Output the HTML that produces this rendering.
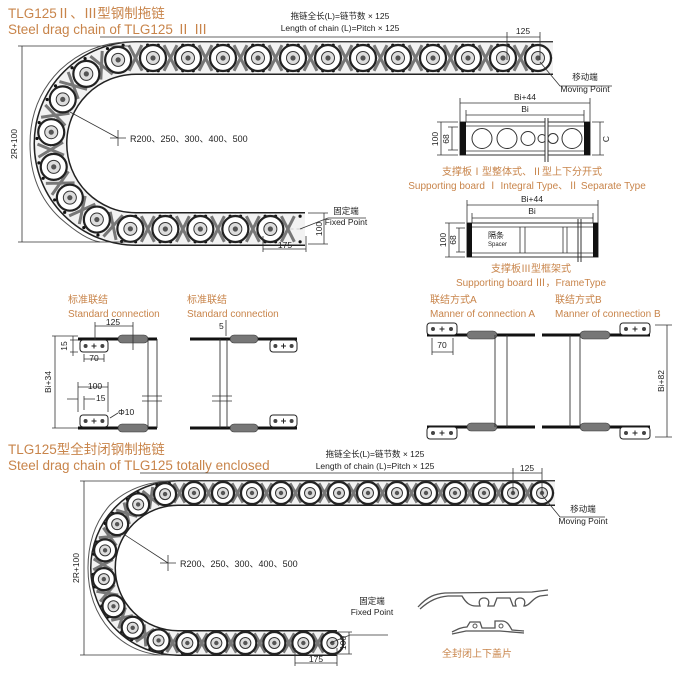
<!DOCTYPE html>
<html><head><meta charset="utf-8">
<style>
html,body{margin:0;padding:0;background:#fff;}
svg{display:block;}
.o{fill:#c8844a;font-family:"Liberation Sans","Noto Sans CJK SC",sans-serif;}
.k{fill:#222;font-family:"Liberation Sans","Noto Sans CJK SC",sans-serif;}
.l{stroke:#333;stroke-width:0.8;fill:none;}
</style></head><body>
<svg id="s" width="693" height="673" viewBox="0 0 693 673" xmlns="http://www.w3.org/2000/svg">
<defs>
<marker id="a" markerWidth="6" markerHeight="6" refX="5" refY="3" orient="auto"><path d="M0,1 L5,3 L0,5" fill="#333"/></marker>
</defs>
<!-- Titles -->
<text class="o" x="8" y="18" font-size="13.5">TLG125Ⅱ、Ⅲ型钢制拖链</text>
<text class="o" x="8" y="34" font-size="13.5">Steel drag chain of TLG125 Ⅱ Ⅲ</text>
<text class="o" x="8" y="454" font-size="13.5">TLG125型全封闭钢制拖链</text>
<text class="o" x="8" y="470" font-size="13.5">Steel drag chain of  TLG125 totally enclosed</text>

<g id="chains"></g>

<!-- top diagram dims -->
<text class="k" x="340" y="19" font-size="8.5" text-anchor="middle">拖链全长(L)=链节数 × 125</text>
<text class="k" x="340" y="31" font-size="8.5" text-anchor="middle">Length of chain (L)=Pitch × 125</text>
<path class="l" d="M100,37 L540,37 M507,32 L507,60 M540,32 L540,60"/>
<text class="k" x="523" y="34" font-size="8.5" text-anchor="middle">125</text>
<path class="l" d="M540,62 L560,86 L612,86"/>
<text class="k" x="585" y="80" font-size="8.5" text-anchor="middle">移动端</text>
<text class="k" x="585" y="92" font-size="8.5" text-anchor="middle">Moving Point</text>
<path class="l" d="M22,46 L22,242 M18,46 L130,46 M18,242 L130,242"/>
<text class="k" font-size="8.5" transform="translate(17,144) rotate(-90)" text-anchor="middle">2R+100</text>
<path class="l" d="M110,138 L126,138 M118,130 L118,146 M118,138 L70,112"/>
<text class="k" x="130" y="142" font-size="9">R200、250、300、400、500</text>
<path class="l" d="M300,229 L328,218 L366,218 M308,213 L328,213 M308,244 L328,244 M324,213 L324,244 M263,236 L263,252 M306,236 L306,252 M263,249 L306,249"/>
<text class="k" x="346" y="214" font-size="8.5" text-anchor="middle">固定端</text>
<text class="k" x="346" y="225" font-size="8.5" text-anchor="middle">Fixed Point</text>
<text class="k" font-size="8.5" transform="translate(322,229) rotate(-90)" text-anchor="middle">100</text>
<text class="k" x="285" y="248" font-size="8.5" text-anchor="middle">175</text>

<!-- lower diagram dims -->
<text class="k" x="375" y="457" font-size="8.5" text-anchor="middle">拖链全长(L)=链节数 × 125</text>
<text class="k" x="375" y="469" font-size="8.5" text-anchor="middle">Length of chain (L)=Pitch × 125</text>
<path class="l" d="M140,473 L542,473 M513,468 L513,494 M542,468 L542,494"/>
<text class="k" x="527" y="471" font-size="8.5" text-anchor="middle">125</text>
<path class="l" d="M542,495 L560,517 L605,517"/>
<text class="k" x="583" y="512" font-size="8.5" text-anchor="middle">移动端</text>
<text class="k" x="583" y="524" font-size="8.5" text-anchor="middle">Moving Point</text>
<path class="l" d="M84,481 L84,655 M80,481 L175,481 M80,655 L175,655"/>
<text class="k" font-size="8.5" transform="translate(79,568) rotate(-90)" text-anchor="middle">2R+100</text>
<path class="l" d="M160,563 L176,563 M168,555 L168,571 M168,563 L125,535"/>
<text class="k" x="180" y="567" font-size="9">R200、250、300、400、500</text>
<path class="l" d="M330,643 L350,635 L388,635 M337,632 L352,632 M337,654 L352,654 M349,632 L349,654 M295,648 L295,666 M337,648 L337,666 M295,663 L337,663"/>
<text class="k" x="372" y="604" font-size="8.5" text-anchor="middle">固定端</text>
<text class="k" x="372" y="615" font-size="8.5" text-anchor="middle">Fixed Point</text>
<text class="k" font-size="8.5" transform="translate(346,643) rotate(-90)" text-anchor="middle">100</text>
<text class="k" x="316" y="662" font-size="8.5" text-anchor="middle">175</text>

<!-- Supporting board I/II -->
<path class="l" d="M460,98 L460,122 M590,98 L590,122 M460,103 L590,103 M466,110 L466,122 M584,110 L584,122 M466,115 L584,115"/>
<text class="k" x="525" y="100" font-size="8.5" text-anchor="middle">Bi+44</text>
<text class="k" x="525" y="112" font-size="8.5" text-anchor="middle">Bi</text>
<rect x="460" y="122" width="130" height="33" fill="#fff" stroke="#333" stroke-width="1"/>
<rect x="460" y="122" width="6" height="33" fill="#111"/>
<rect x="584" y="122" width="6" height="33" fill="#111"/>
<path class="l" d="M466,126 L584,126 M466,151 L584,151"/>
<g fill="#fff" stroke="#333" stroke-width="1"><circle cx="482" cy="138.5" r="10"/><circle cx="507" cy="138.5" r="10"/><circle cx="528" cy="138.5" r="7"/><circle cx="542" cy="138.5" r="4"/><circle cx="553" cy="138.5" r="5"/><circle cx="572" cy="138.5" r="10"/></g>
<path d="M545,118 L545,162 M548,118 L548,162" stroke="#333" stroke-width="1"/>
<rect x="545.5" y="118" width="2" height="44" fill="#fff"/>
<path class="l" d="M437,122 L458,122 M437,155 L458,155 M441,122 L441,155 M448,127 L458,127 M448,150 L458,150 M452,127 L452,150 M592,122 L604,122 M592,155 L604,155 M600,122 L600,155"/>
<text class="k" font-size="8.5" transform="translate(438,139) rotate(-90)" text-anchor="middle">100</text>
<text class="k" font-size="8.5" transform="translate(449,139) rotate(-90)" text-anchor="middle">68</text>
<text class="k" font-size="8.5" transform="translate(609,139) rotate(-90)" text-anchor="middle">C</text>
<text class="o" x="522" y="175" font-size="10" text-anchor="middle">支撑板Ⅰ型整体式、Ⅱ型上下分开式</text>
<text class="o" x="527" y="189" font-size="10" text-anchor="middle">Supporting board Ⅰ Integral Type、Ⅱ Separate Type</text>

<!-- Supporting board III -->
<path class="l" d="M467,200 L467,223 M598,200 L598,223 M467,205 L598,205 M472,213 L472,223 M593,213 L593,223 M472,218 L593,218"/>
<text class="k" x="532" y="202" font-size="8.5" text-anchor="middle">Bi+44</text>
<text class="k" x="532" y="214" font-size="8.5" text-anchor="middle">Bi</text>
<rect x="467" y="223" width="131" height="34" fill="#fff" stroke="#333" stroke-width="1"/>
<rect x="467" y="223" width="5" height="34" fill="#111"/>
<rect x="593" y="223" width="5" height="34" fill="#111"/>
<path class="l" d="M472,227 L593,227 M472,253 L593,253 M520,227 L520,253 M525,227 L525,253 M563,227 L563,253 M567,227 L567,253"/>
<path d="M578,219 L578,262 M581,219 L581,262" stroke="#333" stroke-width="1"/>
<text class="k" x="488" y="238" font-size="8">隔条</text>
<text class="k" x="488" y="246" font-size="6" fill="#888">Spacer</text>
<path class="l" d="M445,223 L465,223 M445,257 L465,257 M449,223 L449,257 M456,228 L465,228 M456,252 L465,252 M459,228 L459,252"/>
<text class="k" font-size="8.5" transform="translate(446,240) rotate(-90)" text-anchor="middle">100</text>
<text class="k" font-size="8.5" transform="translate(456,240) rotate(-90)" text-anchor="middle">68</text>
<text class="o" x="531" y="272" font-size="10" text-anchor="middle">支撑板Ⅲ型框架式</text>
<text class="o" x="531" y="286" font-size="10" text-anchor="middle">Supporting board Ⅲ，FrameType</text>

<!-- connection labels -->
<text class="o" x="68" y="303" font-size="10">标准联结</text>
<text class="o" x="68" y="317" font-size="10">Standard connection</text>
<text class="o" x="187" y="303" font-size="10">标准联结</text>
<text class="o" x="187" y="317" font-size="10">Standard connection</text>
<text class="o" x="430" y="303" font-size="10">联结方式A</text>
<text class="o" x="430" y="317" font-size="10">Manner of connection A</text>
<text class="o" x="555" y="303" font-size="10">联结方式B</text>
<text class="o" x="555" y="317" font-size="10">Manner of connection B</text>
<g id="conn"></g>
<!-- connection dims -->
<path class="l" d="M95,326 L133,326 M95,322 L95,340 M133,322 L133,350 M70,340 L78,340 M70,352 L78,352 M73,336 L73,356 M84,354 L84,362 M104,354 L104,362 M84,359 L104,359 M55,336 L55,428 M52,336 L78,336 M52,428 L78,428 M78,382 L78,412 M108,382 L108,412 M78,387 L108,387 M67,399 L78,399 M84,399 L95,399 M84,396 L84,410 M110,418 L118,413 M226,320 L226,336 M432,338 L432,355 M453,338 L453,355 M432,352 L453,352 M655,325 L672,325 M655,437 L672,437 M667,325 L667,437"/>
<text class="k" x="113" y="325" font-size="8.5" text-anchor="middle">125</text>
<text class="k" font-size="8.5" transform="translate(67,346) rotate(-90)" text-anchor="middle">15</text>
<text class="k" x="94" y="361" font-size="8.5" text-anchor="middle">70</text>
<text class="k" font-size="8.5" transform="translate(51,382) rotate(-90)" text-anchor="middle">Bi+34</text>
<text class="k" x="95" y="389" font-size="8.5" text-anchor="middle">100</text>
<text class="k" x="96" y="401" font-size="8.5">15</text>
<text class="k" x="118" y="415" font-size="8.5">Φ10</text>
<text class="k" x="219" y="329" font-size="8.5">5</text>
<text class="k" x="442" y="348" font-size="8.5" text-anchor="middle">70</text>
<text class="k" font-size="8.5" transform="translate(664,381) rotate(-90)" text-anchor="middle">Bi+82</text>

<!-- cover pieces -->
<path d="M418,607 C428,596 435,594 445,593 L532,592 L548,590 M420,609 C430,600 438,597 448,596 L462,596 C466,603 470,606 476,606 L480,606 C478,601 480,598 484,598 C488,598 490,601 488,606 L494,606 L497,598 L510,598 L513,606 L516,606 C514,601 516,598 520,598 C524,598 526,601 524,606 C530,606 532,598 540,596 L548,595" fill="none" stroke="#555" stroke-width="1.3"/>
<path d="M452,632 C458,629 462,627 467,627 L470,622 L480,622 L482,628 L495,628 L495,621 L502,621 C508,621 510,627 512,630 L524,631 M452,634 L466,631 L470,631 L485,631 L500,631 L524,633" fill="none" stroke="#555" stroke-width="1.3"/>
<circle cx="475" cy="626" r="2" fill="none" stroke="#555"/><circle cx="501" cy="626" r="2" fill="none" stroke="#555"/>
<text class="o" x="477" y="657" font-size="10" text-anchor="middle">全封闭上下盖片</text>
</svg>
<script>
var NS="http://www.w3.org/2000/svg";
var g=document.getElementById("chains");
function el(t,a,p){var e=document.createElementNS(NS,t);for(var k in a)e.setAttribute(k,a[k]);(p||g).appendChild(e);return e;}
function chain(d,hw,pitch,r,outerD,outerOff){
  el("path",{d:d,fill:"none",stroke:"#222","stroke-width":hw*2+2});
  el("path",{d:d,fill:"none",stroke:"#f2f2f2","stroke-width":hw*2-1});
  el("path",{d:d,fill:"none",stroke:"#aaa","stroke-width":0.6,"stroke-dasharray":"6 3"});
  el("path",{d:outerD,fill:"none",stroke:"#555","stroke-width":1});
  var p=el("path",{d:d,fill:"none",stroke:"none"});
  var L=p.getTotalLength();
  for(var s=r+2;s<L;s+=pitch){
    var a=p.getPointAtLength(s);
    var m=p.getPointAtLength(s+pitch/2);
    if(s+pitch/2<L){
      var b=p.getPointAtLength(Math.min(L,s+pitch/2+1));
      var dx=b.x-m.x,dy=b.y-m.y,n=Math.hypot(dx,dy)||1;dx/=n;dy/=n;
      var nx=-dy,ny=dx,q=r*0.5;
      el("path",{d:"M"+(m.x-dx*q-nx*hw*0.8)+","+(m.y-dy*q-ny*hw*0.8)+" L"+(m.x+dx*q+nx*hw*0.8)+","+(m.y+dy*q+ny*hw*0.8)+" M"+(m.x+dx*q-nx*hw*0.8)+","+(m.y+dy*q-ny*hw*0.8)+" L"+(m.x-dx*q+nx*hw*0.8)+","+(m.y-dy*q+ny*hw*0.8),stroke:"#777","stroke-width":3,fill:"none"});
      [-1,1].forEach(function(sg){[-0.35,0.35].forEach(function(f){
        el("circle",{cx:m.x+nx*hw*0.8*sg+dx*pitch*f,cy:m.y+ny*hw*0.8*sg+dy*pitch*f,r:1.6,fill:"#111"});});});
    }
    el("circle",{cx:a.x,cy:a.y,r:r,fill:"#fff",stroke:"#222","stroke-width":2.2});
    el("circle",{cx:a.x,cy:a.y,r:r*0.5,fill:"#ddd",stroke:"#333","stroke-width":1});
    el("circle",{cx:a.x,cy:a.y,r:r*0.2,fill:"#555"});
  }
}
chain("M553,58 L136,58 A85.5,85.5 0 0 0 136,229 L305,229",16,35,13,
 "M553,42 L130,42 Q90,42 60,70 Q30,100 30,144 Q30,190 60,218 Q85,240 100,242",0);
chain("M555,493 L178,493 A75,75 0 0 0 178,643 L337,643",12,29,11,
 "M555,481 L175,481 Q135,481 110,505 Q88,530 88,568 Q88,605 110,630 Q130,652 160,655",0);

var c=document.getElementById("conn");
function E(t,a){return el(t,a,c);}
function bar(x1,x2,y){E("line",{x1:x1,y1:y,x2:x2,y2:y,stroke:"#111","stroke-width":3});}
function slot(x1,x2,y){E("rect",{x:x1,y:y-4,width:x2-x1,height:8,rx:4,fill:"#777",stroke:"#333","stroke-width":0.6});}
function brk(x1,x2,y1,y2){E("rect",{x:x1,y:y1,width:x2-x1,height:y2-y1,rx:3,fill:"#fff",stroke:"#222","stroke-width":1});
 var cy=(y1+y2)/2,w=x2-x1;[0.2,0.5,0.8].forEach(function(f,i){if(i==1){E("path",{d:"M"+(x1+w*f-2.5)+","+cy+" h5 M"+(x1+w*f)+","+(cy-2.5)+" v5",stroke:"#222","stroke-width":1});}else E("circle",{cx:x1+w*f,cy:cy,r:2,fill:"#444"});});}
function vl(x,y1,y2){E("line",{x1:x,y1:y1,x2:x,y2:y2,stroke:"#333","stroke-width":0.9});}
// standard left
bar(78,157,339);bar(78,157,428);slot(118,148,339);slot(118,148,428);
brk(80,108,340,352);brk(80,108,415,427);vl(148,339,428);vl(157,339,428);
E("path",{d:"M142,396 h20 M142,401 h20",stroke:"#333","stroke-width":0.8});
// standard right
bar(190,297,339);bar(190,297,428);slot(230,258,339);slot(230,258,428);
brk(270,297,340,352);brk(270,297,415,427);vl(220,339,428);vl(227,339,428);
E("path",{d:"M212,396 h20 M212,401 h20",stroke:"#333","stroke-width":0.8});
// A
bar(427,535,335);bar(427,535,427);slot(467,497,335);slot(467,497,427);
brk(427,457,323,335);brk(427,457,427,439);vl(495,335,427);vl(507,335,427);
// B
bar(542,650,335);bar(542,650,427);slot(580,610,335);slot(580,610,427);
brk(620,650,323,335);brk(620,650,427,439);vl(570,335,427);vl(580,335,427);
</script>
</body></html>
